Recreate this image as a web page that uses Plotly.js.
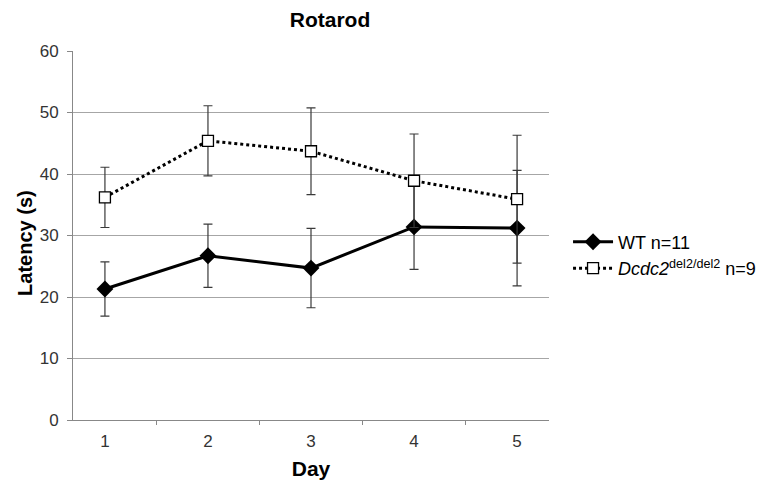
<!DOCTYPE html>
<html><head><meta charset="utf-8">
<script src="https://cdn.plot.ly/plotly-3.0.1.min.js"></script>
<style>html,body{margin:0;padding:0;background:#fff}</style>
</head><body>
<div id="chart" style="width:778px;height:483px"></div>
<script>
const days = ['1','2','3','4','5'];
const wtMean = [21.3, 26.7, 24.7, 31.4, 31.2];
const wtErr = [4.4, 5.15, 6.45, 6.9, 9.4];
const dcdcMean = [36.2, 45.4, 43.7, 38.9, 35.9];
const dcdcErr = [4.9, 5.7, 7.05, 7.6, 10.4];
const wtName = 'WT n=11';
const dcdcName = '<i>Dcdc2</i><sup>del2/del2</sup> n=9';
const yTitle = '<b>Latency (s)</b>';

const errStyle = {type:'data', visible:true, color:'#3a3a3a', thickness:1.2, width:4.5};
const traces = [
  {x: days, y: wtMean, name: wtName, type:'scatter', mode:'lines+markers',
   line:{color:'#000', width:3},
   marker:{symbol:'diamond', size:13, color:'#000'},
   error_y: Object.assign({array: wtErr}, errStyle)},
  {x: days, y: dcdcMean, name: dcdcName, type:'scatter', mode:'lines+markers',
   line:{color:'#000', width:3, dash:'dot'},
   marker:{symbol:'square', size:11, color:'#fff', line:{color:'#000', width:1.3}},
   error_y: Object.assign({array: dcdcErr}, errStyle)}
];
const layout = {
  width:778, height:483,
  margin:{l:73, r:229, t:51, b:63},
  paper_bgcolor:'#fff', plot_bgcolor:'#fff',
  font:{family:'Liberation Sans, Arial, sans-serif', color:'#333', size:17},
  title:{text:'<b>Rotarod</b>', x:330/778, xref:'container', xanchor:'center', y:0.96, yanchor:'middle',
         font:{size:21, color:'#000'}},
  xaxis:{type:'category', title:{text:'<b>Day</b>', font:{size:21, color:'#000'}, standoff:10},
         showline:true, linecolor:'#888', linewidth:1, ticks:'outside', tickson:'boundaries',
         ticklen:4, tickcolor:'#888', ticklabelstandoff:6, showgrid:false, zeroline:false, fixedrange:true},
  yaxis:{range:[0,60], dtick:10,
         showline:true, linecolor:'#888', linewidth:1, ticks:'outside', ticklen:5, tickcolor:'#888',
         ticklabelstandoff:5,
         showgrid:true, gridcolor:'#a6a6a6', gridwidth:1, zeroline:false},
  annotations:[{text: yTitle, xref:'paper', yref:'paper', x:(25-73)/476, y:0.48,
                xanchor:'center', yanchor:'middle', textangle:-90, showarrow:false,
                font:{size:20, color:'#000'}}],
  legend:{x:1.04, xanchor:'left', y:0.447, yanchor:'middle', font:{size:18, color:'#000'},
          itemwidth:40, tracegroupgap:2, bgcolor:'rgba(0,0,0,0)'},
  showlegend:true
};
Plotly.newPlot('chart', traces, layout, {displayModeBar:false, staticPlot:true});
</script>
</body></html>
